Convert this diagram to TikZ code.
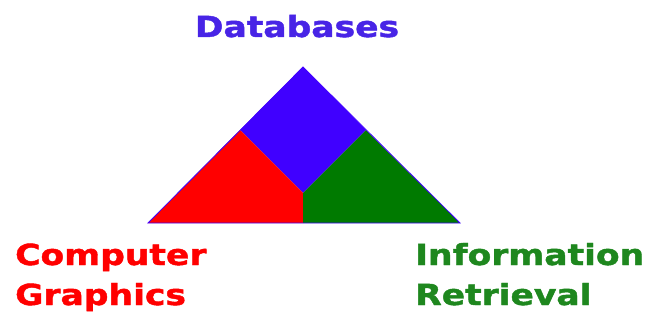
\documentclass[tikz,border=0pt]{standalone}
\usepackage{fontspec}
\newfontfamily\heavyfont[FakeStretch=1.19, FakeBold=1.5]{DejaVu Sans Bold}
\usepackage{xcolor}
\usetikzlibrary{positioning}

\definecolor{dbblue}{RGB}{64,0,255}
\definecolor{cgred}{RGB}{255,0,0}
\definecolor{irgreen}{RGB}{0,122,0}
\definecolor{dbtext}{RGB}{72,36,230}
\definecolor{irtext}{RGB}{30,135,30}

\begin{document}
\begin{tikzpicture}[
    x=1pt, y=-1pt,
    label/.style={font=\heavyfont\fontsize{29}{40}\selectfont, inner sep=0pt, align=left}
]
\useasboundingbox (0,0) rectangle (647,326);

% --- corners of the triangle ---
\coordinate (apex) at (303,67);
\coordinate (bl) at (148,223);
\coordinate (br) at (460,223);
\coordinate (ml) at (240,130);
\coordinate (mr) at (366,130);
\coordinate (mc) at (303,193);
\coordinate (mb) at (303,223);

% --- the three parts ---
\fill[dbblue] (apex) -- (mr) -- (mc) -- (ml) -- cycle;
\fill[cgred] (ml) -- (mc) -- (mb) -- (bl) -- cycle;
\fill[irgreen] (mr) -- (br) -- (mb) -- (mc) -- cycle;
\draw[dbblue, line width=0.8pt] (apex) -- (br) -- (bl) -- cycle;

% --- labels ---
\node[label, text=dbtext, anchor=base] (db) at (297,37) {Databases};
\node[label, text=cgred, anchor=base west] (cg) at (15,305) {Computer\\Graphics};
\node[label, text=irtext, anchor=base west] (ir) at (415,305) {Information\\Retrieval};

\end{tikzpicture}
\end{document}
